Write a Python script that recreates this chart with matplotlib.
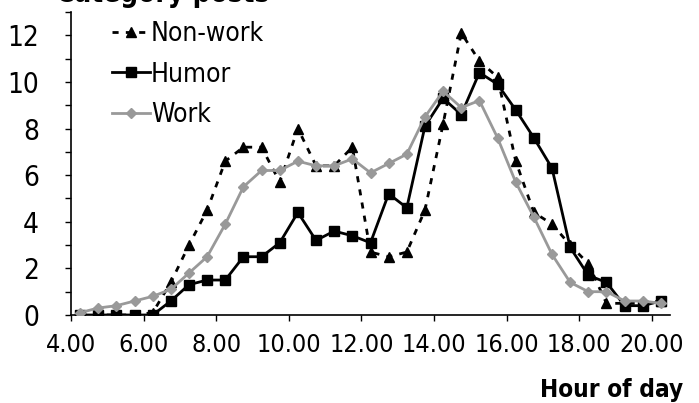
import matplotlib
matplotlib.use("Agg")
import matplotlib.pyplot as plt
import numpy as np

plt.rcParams["font.family"] = ["DejaVu Sans"]
plt.rcParams["font.stretch"] = "condensed"

# half-hour bins, hour of day
hours = [4.25, 4.75, 5.25, 5.75, 6.25, 6.75, 7.25, 7.75, 8.25, 8.75, 9.25,
         9.75, 10.25, 10.75, 11.25, 11.75, 12.25, 12.75, 13.25, 13.75, 14.25,
         14.75, 15.25, 15.75, 16.25, 16.75, 17.25, 17.75, 18.25, 18.75, 19.25,
         19.75, 20.25]

non_work = [0.0, 0.0, 0.0, 0.0, 0.1, 1.4, 3.0, 4.5, 6.6, 7.2, 7.2,
            5.7, 8.0, 6.4, 6.4, 7.2, 2.7, 2.5, 2.7, 4.5, 8.2,
            12.1, 10.9, 10.2, 6.6, 4.4, 3.9, 3.0, 2.2, 0.5, 0.5,
            0.5, 0.6]

humor = [0.0, 0.0, 0.0, 0.0, 0.0, 0.6, 1.3, 1.5, 1.5, 2.5, 2.5,
         3.1, 4.4, 3.2, 3.6, 3.4, 3.1, 5.2, 4.6, 8.1, 9.3,
         8.6, 10.4, 9.9, 8.8, 7.6, 6.3, 2.9, 1.7, 1.4, 0.4,
         0.4, 0.6]

work = [0.1, 0.3, 0.4, 0.6, 0.8, 1.1, 1.8, 2.5, 3.9, 5.5, 6.2,
        6.2, 6.6, 6.4, 6.4, 6.7, 6.1, 6.5, 6.9, 8.5, 9.6,
        8.9, 9.2, 7.6, 5.7, 4.2, 2.6, 1.4, 1.0, 1.0, 0.6,
        0.6, 0.5]

xticks = [4, 6, 8, 10, 12, 14, 16, 18, 20]
xticklabels = ["4.00", "6.00", "8.00", "10.00", "12.00", "14.00", "16.00", "18.00", "20.00"]
yticks = [0, 2, 4, 6, 8, 10, 12]

fig = plt.figure(figsize=(6.99, 4.03), dpi=100)
ax = fig.add_axes([71 / 699, 88 / 403, 599 / 699, 303 / 403])

gray = "#999999"
ax.plot(hours, non_work, color="black", linestyle=(0, (2.2, 2.6)), linewidth=2.0,
        marker="^", markersize=7.5, label="Non-work", zorder=2)
ax.plot(hours, humor, color="black", linewidth=2.0,
        marker="s", markersize=7, label="Humor", zorder=3)
ax.plot(hours, work, color=gray, linewidth=2.0,
        marker="D", markersize=5, label="Work", zorder=4)

ax.set_xlim(4.0, 20.5)
ax.set_ylim(0, 13)
ax.set_xticks(xticks)
ax.set_xticklabels(xticklabels, fontsize=18)
ax.set_yticks(yticks)
ax.set_yticklabels([str(v) for v in yticks], fontsize=20)
ax.set_yticks(np.arange(0, 14, 1), minor=True)
ax.tick_params(axis="x", direction="out", length=4, width=1, pad=9)
ax.tick_params(axis="y", which="both", direction="out", length=4, width=1, pad=19)

for s in ["top", "right"]:
    ax.spines[s].set_visible(False)
for s in ["left", "bottom"]:
    ax.spines[s].set_linewidth(1.2)

ax.legend(loc="upper left", bbox_to_anchor=(0.05, 1.005), frameon=False, fontsize=19,
          handlelength=1.45, handletextpad=0.05, labelspacing=0.55, borderaxespad=0,
          numpoints=1)

fig.text(683 / 699, 6 / 403, "Hour of day", ha="right", va="baseline",
         fontsize=17.5, fontweight="bold")
fig.text(56 / 699, 1 - 2 / 403, "Category posts", ha="left", va="baseline",
         fontsize=20, fontweight="bold")

fig.savefig("out.png", dpi=100)
